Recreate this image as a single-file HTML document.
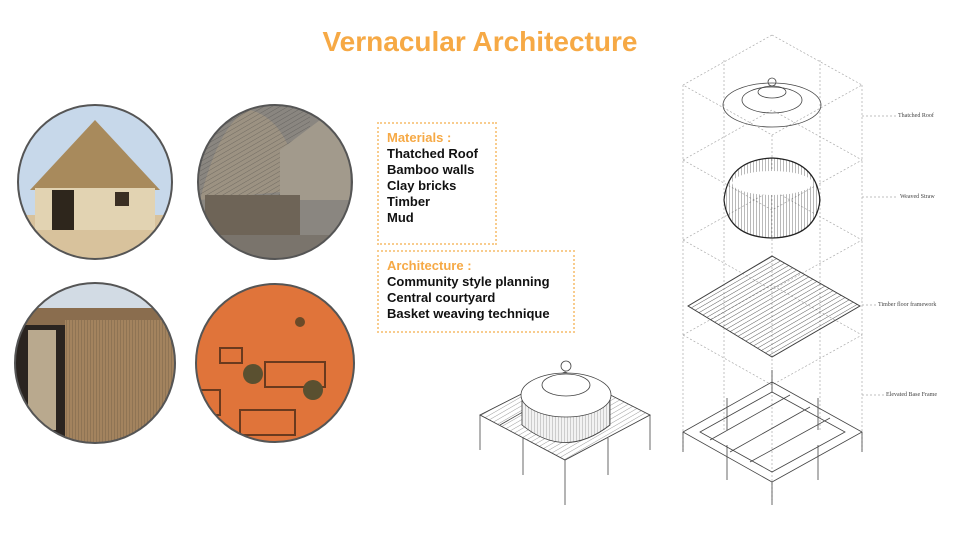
<!DOCTYPE html>
<html><head><meta charset="utf-8"><style>
body{margin:0;background:#fff;width:960px;height:540px;overflow:hidden;position:relative;font-family:"Liberation Sans",sans-serif}
.t{position:absolute;left:0;width:960px;top:26px;text-align:center;font-size:28px;font-weight:bold;color:#f6a945}
.box{position:absolute;border:2px dotted #f8cc8e;font-size:13px;font-weight:bold;color:#111;line-height:16px;padding:6px 8px}
.box .h{color:#f6a945}
.lb{position:absolute;font-family:"Liberation Serif",serif;font-size:6px;color:#444}
</style></head><body>
<div class="t">Vernacular Architecture</div>
<div class="box" style="left:377px;top:122px;width:100px;height:107px"><div class="h">Materials :</div>Thatched Roof<br>Bamboo walls<br>Clay bricks<br>Timber<br>Mud</div>
<div class="box" style="left:377px;top:250px;width:178px;height:67px"><div class="h">Architecture :</div>Community style planning<br>Central courtyard<br>Basket weaving technique</div>
<svg width="960" height="540" style="position:absolute;left:0;top:0">
<defs>
<clipPath id="c1"><circle cx="95" cy="182" r="77"/></clipPath>
<clipPath id="c2"><circle cx="275" cy="182" r="77"/></clipPath>
<clipPath id="c3"><circle cx="95" cy="363" r="80"/></clipPath>
<clipPath id="c4"><circle cx="275" cy="363" r="79"/></clipPath>
<pattern id="hl" width="4" height="4" patternUnits="userSpaceOnUse" patternTransform="rotate(-30)"><line x1="0" y1="0" x2="4" y2="0" stroke="#333" stroke-width="0.8"/></pattern>
<pattern id="vl" width="3" height="3" patternUnits="userSpaceOnUse"><line x1="0" y1="0" x2="0" y2="3" stroke="#222" stroke-width="0.9"/></pattern>
</defs>
<g clip-path="url(#c1)"><rect x="15" y="100" width="160" height="160" fill="#c7d8ea"/><rect x="15" y="215" width="160" height="50" fill="#d8c29c"/><polygon points="95,120 30,190 160,190" fill="#a88a5c"/><rect x="35" y="188" width="120" height="42" fill="#e2d3b2"/><rect x="52" y="190" width="22" height="40" fill="#2e261c"/><rect x="115" y="192" width="14" height="14" fill="#3a2e22"/></g>
<circle cx="95" cy="182" r="77" fill="none" stroke="#555" stroke-width="2"/>
<g clip-path="url(#c2)"><rect x="195" y="100" width="160" height="160" fill="#8a8680"/><path d="M200,200 Q220,120 250,110 Q290,120 300,190 Z" fill="#9c9282" /><rect x="200" y="105" width="110" height="90" fill="url(#hl)" opacity=".5"/><polygon points="280,150 320,120 350,150 350,200 280,200" fill="#a29a8c"/><rect x="205" y="195" width="95" height="40" fill="#6e6457"/><rect x="195" y="235" width="160" height="30" fill="#7a746c"/></g>
<circle cx="275" cy="182" r="77" fill="none" stroke="#555" stroke-width="2"/>
<g clip-path="url(#c3)"><rect x="10" y="280" width="170" height="170" fill="#d2dbe4"/><rect x="10" y="308" width="170" height="140" fill="#8a6d4e"/><rect x="10" y="325" width="55" height="120" fill="#2a2420"/><rect x="28" y="330" width="28" height="100" fill="#b9a98e"/><rect x="65" y="320" width="115" height="125" fill="#a3835e"/><rect x="65" y="320" width="115" height="125" fill="url(#vl)" opacity=".35"/></g>
<circle cx="95" cy="363" r="80" fill="none" stroke="#555" stroke-width="2"/>
<g clip-path="url(#c4)"><rect x="195" y="282" width="160" height="165" fill="#e0743a"/><g fill="none" stroke="#6a3a1e" stroke-width="2"><rect x="220" y="348" width="22" height="15"/><rect x="265" y="362" width="60" height="25"/><rect x="240" y="410" width="55" height="25"/><rect x="200" y="390" width="20" height="25"/></g><circle cx="253" cy="374" r="10" fill="#5a5030"/><circle cx="313" cy="390" r="10" fill="#5a5030"/><circle cx="300" cy="322" r="5" fill="#6a4a28"/></g>
<circle cx="275" cy="363" r="79" fill="none" stroke="#555" stroke-width="2"/>

<g fill="none" stroke="#aaa" stroke-width="0.7" stroke-dasharray="2,2">
<polygon points="772,35 862,85 772,135 683,85"/>
<line x1="683" y1="85" x2="683" y2="450"/><line x1="862" y1="85" x2="862" y2="450"/>
<line x1="772" y1="135" x2="772" y2="500"/><line x1="724" y1="60" x2="724" y2="430"/><line x1="820" y1="60" x2="820" y2="430"/>
<polyline points="683,160 772,110 862,160 772,210 683,160"/>
<polyline points="683,240 772,190 862,240 772,290 683,240"/>
<polyline points="683,335 772,285 862,335 772,385 683,335"/>
<line x1="862" y1="116" x2="896" y2="116"/><line x1="862" y1="197" x2="896" y2="197"/><line x1="862" y1="305" x2="876" y2="305"/><line x1="862" y1="395" x2="884" y2="395"/>
</g>
<g fill="none" stroke="#444" stroke-width="0.8">
<ellipse cx="772" cy="105" rx="49" ry="22"/><ellipse cx="772" cy="100" rx="30" ry="13"/><ellipse cx="772" cy="92" rx="14" ry="6"/><circle cx="772" cy="82" r="4"/>
<path d="M724,200 Q728,160 772,158 Q816,160 820,200 Q816,237 772,238 Q728,237 724,200" stroke="#222" stroke-width="1.2"/>
<path d="M724,200 Q728,160 772,158 Q816,160 820,200 Q816,237 772,238 Q728,237 724,200" fill="url(#vl)" stroke="none" opacity=".7"/>
<ellipse cx="772" cy="183" rx="40" ry="12" fill="#fff" stroke="none"/>
<polygon points="688,306 772,256 860,306 772,357" fill="url(#hl)"/>
<polygon points="688,306 772,256 860,306 772,357"/>
<polygon points="683,432 772,382 862,432 772,482"/><polygon points="700,432 772,392 845,432 772,472"/>
<line x1="683" y1="432" x2="683" y2="452"/><line x1="862" y1="432" x2="862" y2="452"/><line x1="772" y1="370" x2="772" y2="392"/><line x1="772" y1="482" x2="772" y2="505"/>
<line x1="727" y1="398" x2="727" y2="430"/><line x1="818" y1="398" x2="818" y2="430"/><line x1="727" y1="445" x2="727" y2="480"/><line x1="818" y1="445" x2="818" y2="480"/>
<line x1="710" y1="440" x2="790" y2="395"/><line x1="730" y1="452" x2="810" y2="407"/><line x1="750" y1="462" x2="830" y2="418"/>
<line x1="500" y1="425" x2="565" y2="388"/><polygon points="480,415 565,372 650,415 565,460"/>
<polygon points="480,415 565,372 650,415 565,460" fill="url(#hl)" opacity=".6"/>
<line x1="480" y1="415" x2="480" y2="450"/><line x1="650" y1="415" x2="650" y2="450"/><line x1="565" y1="460" x2="565" y2="505"/><line x1="523" y1="438" x2="523" y2="475"/><line x1="608" y1="438" x2="608" y2="475"/>
<path d="M522,400 L522,425 Q565,460 610,425 L610,400" fill="#f2f2f2"/>
<path d="M522,400 L522,425 Q565,460 610,425 L610,400" fill="url(#vl)" opacity=".4"/>
<ellipse cx="566" cy="395" rx="45" ry="22" fill="#fff"/><ellipse cx="566" cy="385" rx="24" ry="11"/><circle cx="566" cy="366" r="5"/>
</g>
</svg>
<div class="lb" style="left:898px;top:113px">Thatched Roof</div>
<div class="lb" style="left:900px;top:194px">Weaved Straw</div>
<div class="lb" style="left:878px;top:302px">Timber floor framework</div>
<div class="lb" style="left:886px;top:392px">Elevated Base Frame</div>
</body></html>
